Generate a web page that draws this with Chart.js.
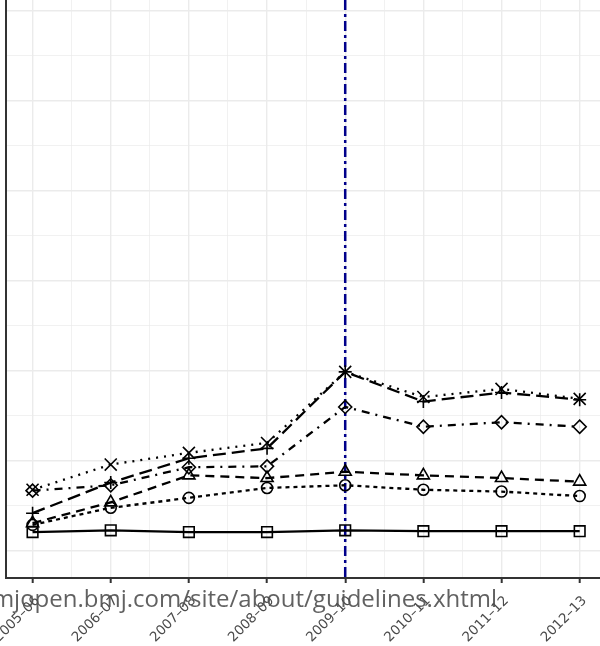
<!DOCTYPE html>
<html>
<head>
<meta charset="utf-8">
<script src="https://cdn.jsdelivr.net/npm/chart.js@4.4.1/dist/chart.umd.min.js"></script>
<style>
  html, body { margin: 0; padding: 0; background: #fff; }
  #wrap { width: 600px; height: 646px; }
</style>
</head>
<body>
<div id="wrap"><canvas id="chart" width="600" height="646"></canvas></div>
<script>
const periods = ["2005–06", "2006–07", "2007–08", "2008–09", "2009–10", "2010–11", "2011–12", "2012–13"];

// values (arbitrary units, 10 per major grid line)
const squareVals   = [2.1, 2.3, 2.1, 2.1, 2.3, 2.2, 2.2, 2.2];
const circleVals   = [2.9, 4.8, 5.9, 7.0, 7.3, 6.8, 6.6, 6.1];
const triangleVals = [3.1, 5.4, 8.4, 8.1, 8.8, 8.4, 8.1, 7.7];
const plusVals     = [4.2, 7.6, 10.3, 11.4, 19.9, 16.6, 17.6, 16.8];
const crossVals    = [6.8, 9.6, 10.9, 12.0, 19.9, 17.1, 18.0, 16.9];
const diamondVals  = [6.7, 7.3, 9.3, 9.4, 16.0, 13.8, 14.3, 13.8];

const markIndex = 4; // 2009–10 reference line
const xMin = -0.34, xMax = 7.26;
const yMin = -3, yMax = 61.2;

const toPoints = vals => vals.map((v, i) => ({x: i, y: v}));

function series(vals, style, radius, dash) {
    return {
        data: toPoints(vals),
        borderColor: "#000",
        backgroundColor: "rgba(0,0,0,0)",
        borderWidth: 2.3,
        borderDash: dash,
        pointStyle: style,
        pointRadius: radius,
        pointBorderWidth: 1.6,
        pointBorderColor: "#000",
        pointBackgroundColor: "rgba(0,0,0,0)",
        tension: 0
    };
}

const refLine = {
    id: "refLine",
    beforeDatasetsDraw(chart) {
        const {ctx, chartArea, scales} = chart;
        const x = scales.x.getPixelForValue(markIndex);
        ctx.save();
        ctx.strokeStyle = "#00008b";
        ctx.lineWidth = 2.5;
        ctx.setLineDash([10, 4, 3, 4]);
        ctx.beginPath();
        ctx.moveTo(x, chartArea.top);
        ctx.lineTo(x, chartArea.bottom);
        ctx.stroke();
        ctx.restore();
    }
};

const watermark = {
    id: "watermark",
    afterDraw(chart) {
        const ctx = chart.ctx;
        ctx.save();
        ctx.font = "24px 'Open Sans'";
        ctx.fillStyle = "rgba(80,80,80,0.9)";
        ctx.textAlign = "right";
        ctx.textBaseline = "alphabetic";
        ctx.fillText("bmjopen.bmj.com/site/about/guidelines.xhtml", 497, 607);
        ctx.restore();
    }
};

new Chart("chart", {
    type: "line",
    data: {
        datasets: [
            series(squareVals, "rect", 7.5, []),
            series(circleVals, "circle", 5.5, [4, 4]),
            series(triangleVals, "triangle", 7, [9, 6]),
            series(plusVals, "cross", 6.5, [13, 6]),
            series(crossVals, "crossRot", 8.5, [2, 6]),
            series(diamondVals, "rectRot", 6.5, [8, 6, 2, 6])
        ]
    },
    options: {
        responsive: false,
        devicePixelRatio: 1,
        animation: false,
        layout: {padding: 0, autoPadding: false},
        plugins: {legend: {display: false}, tooltip: {enabled: false}},
        scales: {
            x: {
                type: "linear",
                min: xMin,
                max: xMax,
                afterBuildTicks: s => {
                    const t = [];
                    for (let v = 0; v <= periods.length - 1; v += 0.5) t.push({value: v});
                    s.ticks = t;
                },
                afterFit: s => { s.height = 68; s.paddingLeft = 0; s.paddingRight = 0; },
                ticks: {
                    autoSkip: false,
                    minRotation: 45,
                    maxRotation: 45,
                    padding: 10,
                    labelOffset: 5,
                    color: "#4a4a4a",
                    font: {family: "'DejaVu Sans'", size: 13.5},
                    callback: v => Number.isInteger(v) ? periods[v] : ""
                },
                grid: {
                    color: "#ebebeb",
                    lineWidth: c => c.tick && Number.isInteger(c.tick.value) ? 1.4 : 0.7,
                    tickColor: c => c.tick && Number.isInteger(c.tick.value) ? "#333" : "rgba(0,0,0,0)",
                    tickWidth: 2,
                    tickLength: 5
                },
                border: {color: "#333", width: 2}
            },
            y: {
                min: yMin,
                max: yMax,
                afterBuildTicks: s => {
                    const t = [];
                    for (let v = 0; v <= yMax; v += 5) t.push({value: v});
                    s.ticks = t;
                },
                afterFit: s => { s.width = 6; s.paddingTop = 0; s.paddingBottom = 0; },
                ticks: {display: false},
                grid: {
                    color: "#ebebeb",
                    lineWidth: c => c.tick && c.tick.value % 10 === 0 ? 1.4 : 0.7,
                    drawTicks: false
                },
                border: {color: "#333", width: 2}
            }
        }
    },
    plugins: [refLine, watermark]
});
</script>
</body>
</html>
